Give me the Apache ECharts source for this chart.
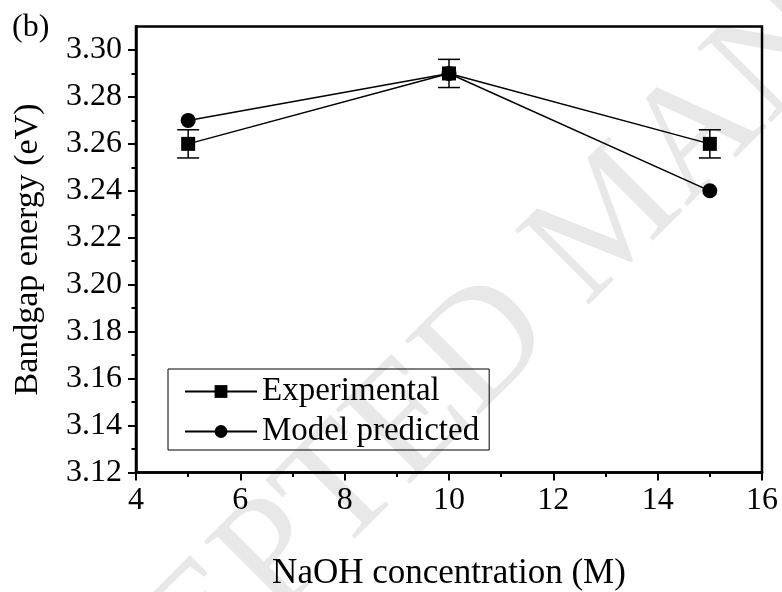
<!DOCTYPE html>
<html>
<head>
<meta charset="utf-8">
<script src="https://cdn.jsdelivr.net/npm/echarts@6/dist/echarts.min.js"></script>
<style>
  html, body { margin: 0; padding: 0; background: #fff; }
  #chart { width: 782px; height: 592px; }
</style>
</head>
<body>
<div id="chart"></div>
<script>
// NaOH concentration (M)
const concentration = [5, 10, 15];
// Bandgap energy (eV)
const experimental = [3.26, 3.29, 3.26];
const experimentalError = [0.006, 0.006, 0.006];
const modelPredicted = [3.27, 3.29, 3.24];
// Axis ticks
const yMajorTicks = [3.12, 3.14, 3.16, 3.18, 3.20, 3.22, 3.24, 3.26, 3.28, 3.30];
const yMinorTicks = [3.13, 3.15, 3.17, 3.19, 3.21, 3.23, 3.25, 3.27, 3.29];

const FONT = "'Liberation Serif', 'Times New Roman', serif";
const chart = echarts.init(document.getElementById('chart'), null, { renderer: 'canvas' });

const expPoints = concentration.map((x, i) => [x, experimental[i]]);
const modelPoints = concentration.map((x, i) => [x, modelPredicted[i]]);
const errPoints = concentration.map((x, i) => [x, experimental[i], experimentalError[i]]);

const yRange = { min: 3.12, max: 3.31 };

chart.setOption({
  animation: false,
  backgroundColor: '#fff',
  grid: {
    left: 136, right: 20, top: 26.5, bottom: 119.5,
    outerBoundsMode: 'none', containLabel: false,
    show: true, borderColor: '#000', borderWidth: 2.5, backgroundColor: 'transparent'
  },
  graphic: [
    {
      type: 'text', z: -10, silent: true,
      x: 614, y: 220, rotation: Math.PI / 4,
      style: {
        text: 'ACCEPTED MANUSCRIPT',
        font: "160px 'Liberation Serif', serif",
        fill: '#e8e8e8', textAlign: 'center', textVerticalAlign: 'middle'
      }
    },
    {
      type: 'text', left: 12, top: 12,
      style: { text: '(b)', font: "32px 'Liberation Serif', serif", fill: '#000' }
    }
  ],
  xAxis: {
    type: 'value', min: 4, max: 16, interval: 2,
    name: 'NaOH concentration (M)', nameLocation: 'middle', nameGap: 84,
    nameTextStyle: { fontFamily: FONT, fontSize: 35, color: '#000' },
    axisLine: { lineStyle: { color: '#000', width: 2.5 } },
    axisTick: { inside: false, length: 8, lineStyle: { color: '#000', width: 2 } },
    minorTick: { show: true, splitNumber: 2, length: 4.5, lineStyle: { color: '#000', width: 2 } },
    axisLabel: { margin: 12, fontFamily: FONT, fontSize: 32, color: '#000' },
    splitLine: { show: false }, minorSplitLine: { show: false }
  },
  yAxis: [
    {
      type: 'value', min: yRange.min, max: yRange.max,
      name: 'Bandgap energy (eV)', nameLocation: 'middle', nameGap: 91,
      nameTextStyle: { fontFamily: FONT, fontSize: 34, color: '#000' },
      axisLine: { lineStyle: { color: '#000', width: 2.5 } },
      axisTick: { inside: false, length: 8, customValues: yMajorTicks, lineStyle: { color: '#000', width: 2 } },
      axisLabel: {
        margin: 14, fontFamily: FONT, fontSize: 32, color: '#000',
        customValues: yMajorTicks, formatter: v => v.toFixed(2)
      },
      splitLine: { show: false }
    },
    {
      type: 'value', min: yRange.min, max: yRange.max,
      axisLine: { show: false },
      axisTick: { inside: false, length: 4.5, customValues: yMinorTicks, lineStyle: { color: '#000', width: 2 } },
      axisLabel: { show: false },
      position: 'left',
      splitLine: { show: false }
    }
  ],
  legend: {
    orient: 'vertical', left: 168, top: 369,
    borderColor: '#000', borderWidth: 1,
    padding: [6, 10, 2, 16], itemGap: 7,
    itemWidth: 72, itemHeight: 16,
    textStyle: { fontFamily: FONT, fontSize: 33, color: '#000' },
    data: ['Experimental', 'Model predicted']
  },
  series: [
    {
      name: 'error', type: 'custom', z: 1,
      data: errPoints,
      renderItem: (params, api) => {
        const x = api.value(0), y = api.value(1), e = api.value(2);
        const top = api.coord([x, y + e]);
        const bot = api.coord([x, y - e]);
        const half = 11;
        const style = { stroke: '#000', lineWidth: 1.5 };
        return {
          type: 'group',
          children: [
            { type: 'line', shape: { x1: top[0], y1: top[1], x2: bot[0], y2: bot[1] }, style },
            { type: 'line', shape: { x1: top[0] - half, y1: top[1], x2: top[0] + half, y2: top[1] }, style },
            { type: 'line', shape: { x1: bot[0] - half, y1: bot[1], x2: bot[0] + half, y2: bot[1] }, style }
          ]
        };
      }
    },
    {
      name: 'Model predicted', type: 'line', z: 3,
      data: modelPoints, symbol: 'circle', symbolSize: 15,
      itemStyle: { color: '#000' },
      lineStyle: { color: '#000', width: 1.5 }
    },
    {
      name: 'Experimental', type: 'line', z: 4,
      data: expPoints, symbol: 'rect', symbolSize: 14,
      itemStyle: { color: '#000' },
      lineStyle: { color: '#000', width: 1.5 }
    }
  ]
});
</script>
</body>
</html>
